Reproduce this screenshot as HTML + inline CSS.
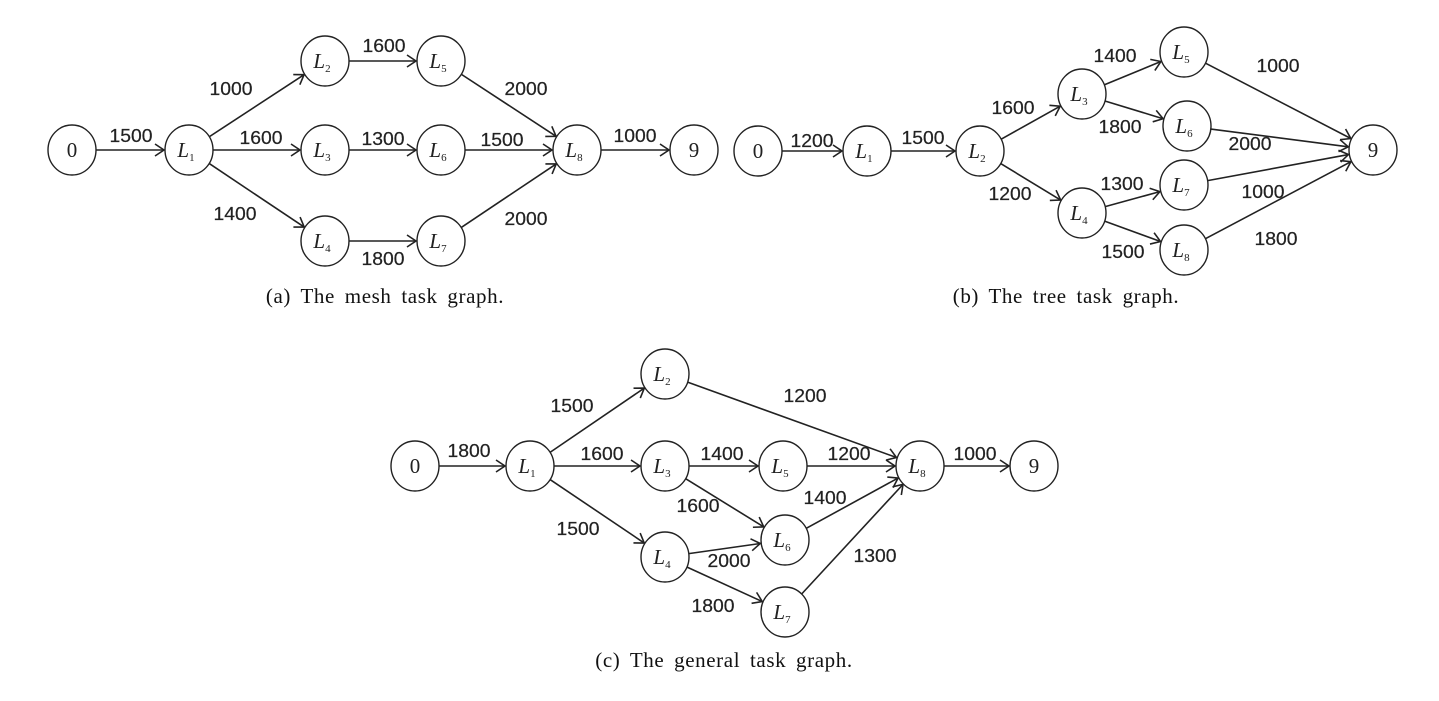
<!DOCTYPE html>
<html><head><meta charset="utf-8"><style>
html,body{margin:0;padding:0;background:#fff;}
svg{display:block;}
.e{stroke:#222;stroke-width:1.6;fill:none;}
.lbl{font-family:"Liberation Sans",sans-serif;font-size:18px;fill:#222;stroke:#222;stroke-width:0.2;}
.nl{font-family:"Liberation Serif",serif;font-style:italic;font-size:21px;fill:#222;}
.sub{font-family:"Liberation Serif",serif;font-style:normal;font-size:11px;}
.cap{font-family:"Liberation Serif",serif;font-size:21px;fill:#111;letter-spacing:0.6px;word-spacing:4px;}
</style></head><body>
<svg id="s" width="1439" height="701" viewBox="0 0 1439 701"></svg>
<script>
const graphA = {
  name:'mesh',
  nodes:{'0':[72,150],'1':[189,150],'2':[325,61],'3':[325,150],'4':[325,241],'5':[441,61],'6':[441,150],'7':[441,241],'8':[577,150],'9':[694,150]},
  edges:[['0','1','1500',131,136],['1','2','1000',231,89],['1','3','1600',261,138],['1','4','1400',235,214],['2','5','1600',384,46],['3','6','1300',383,139],['4','7','1800',383,259],['5','8','2000',526,89],['6','8','1500',502,140],['7','8','2000',526,219],['8','9','1000',635,136]],
  caption:['(a) The mesh task graph.',385,303]
};
const graphB = {
  name:'tree',
  nodes:{'0':[758,151],'1':[867,151],'2':[980,151],'3':[1082,94],'4':[1082,213],'5':[1184,52],'6':[1187,126],'7':[1184,185],'8':[1184,250],'9':[1373,150]},
  edges:[['0','1','1200',812,141],['1','2','1500',923,138],['2','3','1600',1013,108],['2','4','1200',1010,194],['3','5','1400',1115,56],['3','6','1800',1120,127],['4','7','1300',1122,184],['4','8','1500',1123,252],['5','9','1000',1278,66],['6','9','2000',1250,144],['7','9','1000',1263,192],['8','9','1800',1276,239]],
  caption:['(b) The tree task graph.',1066,303]
};
const graphC = {
  name:'general',
  nodes:{'0':[415,466],'1':[530,466],'2':[665,374],'3':[665,466],'4':[665,557],'5':[783,466],'6':[785,540],'7':[785,612],'8':[920,466],'9':[1034,466]},
  edges:[['0','1','1800',469,451],['1','2','1500',572,406],['1','3','1600',602,454],['1','4','1500',578,529],['2','8','1200',805,396],['3','5','1400',722,454],['3','6','1600',698,506],['4','6','2000',729,561],['4','7','1800',713,606],['5','8','1200',849,454],['6','8','1400',825,498],['7','8','1300',875,556],['8','9','1000',975,454]],
  caption:['(c) The general task graph.',724,667]
};
const NS='http://www.w3.org/2000/svg';
const svg=document.getElementById('s');
const R=24;
function mk(tag,attrs,parent){const el=document.createElementNS(NS,tag);for(const k in attrs)el.setAttribute(k,attrs[k]);(parent||svg).appendChild(el);return el;}
function draw(g){
  const grp=mk('g',{});
  
  
  g.edges.forEach(ed=>{
    const a=g.nodes[ed[0]],b=g.nodes[ed[1]];
    const dx=b[0]-a[0],dy=b[1]-a[1],L=Math.hypot(dx,dy),ux=dx/L,uy=dy/L;
    const x1=a[0]+ux*R,y1=a[1]+uy*R,x2=b[0]-ux*(R+1),y2=b[1]-uy*(R+1);
    const line=mk('line',{x1:x1,y1:y1,x2:x2,y2:y2,class:'e'},grp);
    
    
    const h=9,w=6,px=-uy,py=ux;
    const ah=mk('polyline',{points:(x2-ux*h+px*w)+','+(y2-uy*h+py*w)+' '+x2+','+y2+' '+(x2-ux*h-px*w)+','+(y2-uy*h-py*w),class:'e'},grp);
    
    
    const t=mk('text',{x:ed[3],y:ed[4]+6,'text-anchor':'middle',class:'lbl',textLength:43,lengthAdjust:'spacingAndGlyphs'},grp);
    t.textContent=ed[2];
    
    
  });
  for(const k in g.nodes){
    const p=g.nodes[k];
    const c=mk('ellipse',{cx:p[0],cy:p[1],rx:R,ry:R+1,fill:'#fff',stroke:'#222','stroke-width':1.4},grp);
    
    
    const t=mk('text',{x:p[0],y:p[1]+7,'text-anchor':'middle',class:'nl'},grp);
    if(k==='0'||k==='9'){t.style.fontStyle='normal';t.textContent=k;}
    else{t.setAttribute('x',p[0]-3);t.textContent='L';const s=mk('tspan',{class:'sub',dy:4},t);s.textContent=k;}
    
    
  }
  const cap=mk('text',{x:g.caption[1],y:g.caption[2],'text-anchor':'middle',class:'cap'},grp);
  cap.textContent=g.caption[0];
  
  
}
draw(graphA);draw(graphB);draw(graphC);
</script>
</body></html>
